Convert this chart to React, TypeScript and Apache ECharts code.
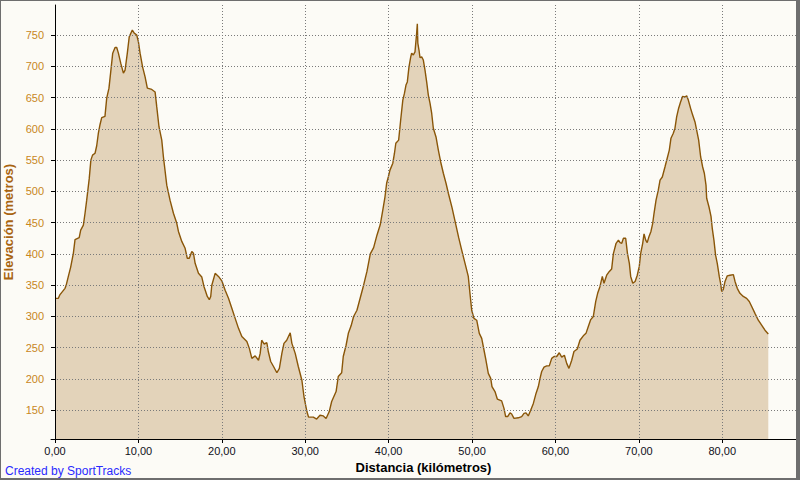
import React, { useEffect, useRef } from "react";
import * as echarts from "echarts";

const distanceKm: number[] = [
  0.0, 0.4, 0.6, 1.2, 1.32, 1.6, 1.88, 2.2, 2.4, 2.9, 3.08, 3.4, 3.6, 3.8, 4.1, 4.3, 4.5, 4.8, 5.0, 5.2,
  5.4, 5.6, 5.99, 6.2, 6.47, 6.68, 6.92, 7.2, 7.4, 7.6, 7.88, 8.2, 8.4, 8.67, 8.9, 9.27, 9.5, 9.8, 10.0, 10.2,
  10.5, 10.8, 11.07, 11.6, 12.0, 12.2, 12.47, 12.8, 13.0, 13.4, 13.79, 14.2, 14.6, 14.8, 15.2, 15.6, 15.86, 16.1, 16.4, 16.6,
  16.8, 17.2, 17.6, 17.86, 18.26, 18.5, 18.67, 18.8, 19.2, 19.6, 20.0, 20.4, 20.8, 21.2, 21.6, 22.0, 22.4, 23.0, 23.3, 23.6,
  24.0, 24.4, 24.6, 24.78, 25.06, 25.4, 25.57, 25.86, 26.2, 26.6, 26.9, 27.2, 27.45, 27.78, 28.2, 28.4, 28.8, 29.17, 29.6, 29.85,
  30.2, 30.4, 30.97, 31.37, 31.77, 32.17, 32.5, 32.88, 33.17, 33.7, 33.96, 34.37, 34.56, 34.9, 35.17, 35.5, 35.8, 36.2, 36.6, 37.0,
  37.4, 37.8, 38.2, 38.6, 39.0, 39.3, 39.56, 39.76, 39.96, 40.16, 40.5, 40.7, 40.86, 41.2, 41.36, 41.45, 41.7, 41.9, 42.08, 42.24,
  42.44, 42.65, 42.76, 42.96, 43.16, 43.36, 43.44, 43.5, 43.64, 43.76, 43.96, 44.16, 44.36, 44.56, 44.76, 44.96, 45.16, 45.36, 45.68, 45.96,
  46.24, 46.56, 46.88, 47.16, 47.6, 48.0, 48.4, 48.76, 49.16, 49.55, 49.75, 49.96, 50.23, 50.56, 50.87, 51.16, 51.35, 51.67, 51.95, 52.24,
  52.39, 52.75, 53.03, 53.55, 53.83, 54.03, 54.27, 54.55, 54.75, 55.03, 55.55, 55.95, 56.23, 56.47, 56.74, 57.03, 57.35, 57.67, 57.95, 58.15,
  58.35, 58.63, 58.95, 59.26, 59.55, 59.83, 60.15, 60.46, 60.75, 61.07, 61.35, 61.62, 61.95, 62.22, 62.62, 62.94, 63.34, 63.66, 63.94, 64.23,
  64.54, 64.83, 65.06, 65.34, 65.62, 65.82, 66.14, 66.46, 66.74, 66.94, 67.27, 67.55, 67.75, 67.95, 68.15, 68.42, 68.63, 68.86, 69.02, 69.27,
  69.55, 69.81, 70.05, 70.22, 70.46, 70.62, 70.82, 71.0, 71.22, 71.45, 71.66, 71.82, 72.06, 72.33, 72.54, 72.81, 73.13, 73.4, 73.65, 73.85,
  74.13, 74.33, 74.53, 74.77, 75.0, 75.25, 75.53, 75.73, 75.93, 76.2, 76.45, 76.73, 76.93, 77.17, 77.41, 77.65, 77.85, 78.05, 78.13, 78.41,
  78.65, 78.8, 79.0, 79.2, 79.4, 79.64, 79.8, 79.93, 80.12, 80.33, 80.6, 80.93, 81.33, 81.53, 81.8, 82.12, 82.52, 82.92, 83.24, 83.53,
  83.92, 84.32, 84.72, 85.12, 85.52,
];

const elevationM: number[] = [
  329, 329, 335, 345, 349, 364, 379, 401, 423, 426, 438, 446, 465, 486, 520, 550, 558, 561, 573, 593,
  607, 618, 620, 649, 665, 691, 721, 730, 730, 721, 705, 689, 694, 721, 747, 758, 753, 750, 739, 721,
  699, 683, 665, 663, 659, 635, 603, 582, 555, 510, 486, 465, 449, 436, 420, 409, 393, 393, 404, 401,
  385, 369, 363, 348, 332, 327, 332, 350, 369, 364, 357, 342, 329, 313, 297, 281, 268, 260, 249, 233,
  237, 230, 241, 262, 256, 258, 244, 228, 220, 210, 217, 241, 257, 262, 274, 257, 241, 220, 198, 172,
  148, 139, 139, 136, 142, 141, 137, 148, 164, 180, 204, 210, 236, 254, 273, 285, 300, 310, 330, 350,
  372, 400, 410, 430, 447, 470, 491, 513, 523, 534, 545, 561, 577, 582, 603, 615, 646, 657, 670, 675,
  699, 715, 721, 718, 723, 753, 768, 737, 726, 714, 715, 710, 694, 675, 654, 641, 625, 601, 587, 566,
  547, 529, 513, 497, 474, 450, 426, 406, 385, 364, 337, 310, 297, 294, 273, 265, 252, 230, 209, 201,
  188, 180, 168, 165, 153, 140, 140, 146, 144, 137, 138, 140, 145, 146, 141, 150, 161, 177, 188, 201,
  212, 219, 221, 221, 233, 236, 236, 242, 235, 238, 225, 217, 230, 244, 248, 262, 269, 273, 284, 295,
  300, 324, 337, 348, 364, 353, 366, 372, 376, 400, 417, 422, 418, 417, 425, 425, 401, 385, 364, 353,
  356, 366, 380, 401, 417, 432, 422, 418, 428, 436, 449, 465, 486, 502, 518, 523, 539, 553, 566, 585,
  593, 601, 619, 633, 643, 652, 651, 653, 646, 633, 622, 611, 598, 582, 555, 539, 529, 510, 489, 475,
  460, 441, 422, 398, 385, 364, 353, 340, 343, 356, 365, 366, 367, 356, 345, 337, 332, 329, 324, 316,
  305, 294, 286, 278, 272,
];

const xTicks: number[] = [0, 10, 20, 30, 40, 50, 60, 70, 80];
const yTicks: number[] = [150, 200, 250, 300, 350, 400, 450, 500, 550, 600, 650, 700, 750];

const xTitle = "Distancia (kilómetros)";
const yTitle = "Elevación (metros)";
const credit = "Created by SportTracks";

export default function App() {
  const ref = useRef<HTMLDivElement>(null);

  useEffect(() => {
    if (!ref.current) return;
    const chart = echarts.init(ref.current, undefined, { renderer: "svg" });
    const font = "'Liberation Sans', Arial, sans-serif";
    const grid = { type: [1, 2] as any, color: "#7a7a7a", width: 1 };
    chart.setOption({
      animation: false,
      backgroundColor: "#FCFBF6",
      grid: { left: 51, right: 4, top: 5, bottom: 41, containLabel: false, outerBoundsMode: "none" },
      xAxis: {
        type: "value",
        min: -0.48,
        max: 88.84,
        z: 5,
        name: xTitle,
        nameLocation: "middle",
        nameGap: 18,
        nameTextStyle: { fontFamily: font, fontSize: 13, fontWeight: "bold", color: "#000" },
        axisLine: { show: true, lineStyle: { color: "#000", width: 1 } },
        axisTick: { show: true, length: 4, lineStyle: { color: "#000" }, customValues: xTicks },
        axisLabel: {
          customValues: xTicks,
          margin: 6,
          fontFamily: font,
          fontSize: 11,
          color: "#101020",
          formatter: (v: number) => v.toFixed(2).replace(".", ","),
        },
        splitLine: { show: true, lineStyle: grid },
      },
      yAxis: {
        type: "value",
        min: 104.1,
        max: 798,
        z: 5,
        name: yTitle,
        nameLocation: "middle",
        nameGap: 29,
        nameTextStyle: { fontFamily: font, fontSize: 13, fontWeight: "bold", color: "#A86410" },
        axisLine: { show: true, lineStyle: { color: "#000", width: 1 } },
        axisTick: { show: true, length: 4, lineStyle: { color: "#000" }, customValues: yTicks },
        axisLabel: {
          customValues: yTicks,
          margin: 7,
          fontFamily: font,
          fontSize: 11,
          color: "#C8861C",
        },
        splitLine: { show: true, lineStyle: grid },
      },
      series: [
        {
          type: "line",
          data: distanceKm.map((d, i) => [d, elevationM[i]]),
          showSymbol: false,
          z: 2,
          lineStyle: { color: "#8A5608", width: 1.4 },
          areaStyle: { color: "#E3D3BA", opacity: 1, origin: "start" },
        },
      ],
      graphic: [
        {
          type: "text",
          left: 5,
          top: 465,
          style: { text: credit, fontFamily: font, fontSize: 12, fill: "#2a2aff" },
        },
      ],
    });
    return () => chart.dispose();
  }, []);

  return (
    <div style={{ position: "fixed", left: 0, top: 0, width: 800, height: 480 }}>
      <div ref={ref} style={{ width: 800, height: 480 }} />
      <div
        style={{
          position: "absolute",
          left: 0,
          top: 0,
          width: 800,
          height: 480,
          boxSizing: "border-box",
          borderTop: "1px solid #6e6e6e",
          borderLeft: "1px solid #6e6e6e",
          borderRight: "4px solid #6e6e6e",
          borderBottom: "2px solid #6e6e6e",
          pointerEvents: "none",
        }}
      />
    </div>
  );
}
